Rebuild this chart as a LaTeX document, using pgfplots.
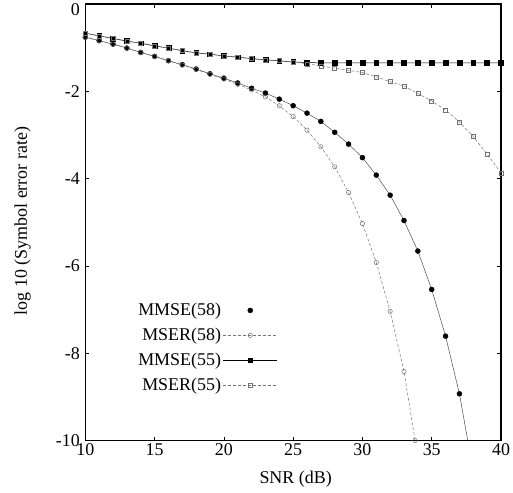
\documentclass[border=0pt]{standalone}
\usepackage{fontspec}
\setmainfont{Liberation Serif}
\usepackage{pgfplots}
\pgfplotsset{compat=1.18}
\begin{document}
\begin{tikzpicture}
\begin{axis}[
  scale only axis,
  width=415.7bp, height=436.5bp,
  xmin=10, xmax=40, ymin=-10, ymax=0,
  xtick={10,15,...,40}, ytick={-10,-8,...,0},
  yticklabels={-10,-8,-6,-4,-2,\raisebox{-12bp}[0pt][0pt]{0}},
  tick align=inside,
  major tick length=4bp,
  axis line style={line width=1.2bp},
  tick style={line width=0.6bp, black},
  /pgf/number format/assume math mode=true,
  tick label style={font=\fontsize{18}{20}\selectfont},
  yticklabel style={xshift=-2bp},
  label style={font=\fontsize{18}{20}\selectfont},
  xlabel={SNR (dB)},
  ylabel={log 10 (Symbol error rate)},
  xlabel style={at={(axis description cs:0.506,-0.0882)}, anchor=center},
  ylabel style={at={(axis description cs:-0.1506,0.503)}, anchor=center},
  legend style={at={(axis description cs:0.47,0.3235)}, anchor=north east,
    draw=none, fill=none, font=\fontsize{18}{20}\selectfont,
    legend cell align=right, row sep=7bp},
  legend plot pos=right,
  legend image code/.code={\draw[mark repeat=2,mark phase=2,#1] plot coordinates {(0bp,0bp) (27bp,0bp) (54bp,0bp)};},
]
% MMSE(58) connecting line (not in legend)
\addplot[black!70, line width=0.5bp, forget plot] coordinates {
(10,-0.76)(11,-0.84)(12,-0.92)(13,-1.01)(14,-1.11)(15,-1.20)(16,-1.30)(17,-1.39)(18,-1.49)(19,-1.60)(20,-1.70)(21,-1.81)(22,-1.93)(23,-2.04)(24,-2.18)(25,-2.33)(26,-2.50)(27,-2.69)(28,-2.94)(29,-3.21)(30,-3.52)(31,-3.92)(32,-4.38)(33,-4.96)(34,-5.66)(35,-6.54)(36,-7.61)(37,-8.93)(37.6,-10)};
\addplot[only marks, mark=*, mark size=2.5bp, black] coordinates {
(10,-0.76)(11,-0.84)(12,-0.92)(13,-1.01)(14,-1.11)(15,-1.20)(16,-1.30)(17,-1.39)(18,-1.49)(19,-1.60)(20,-1.70)(21,-1.81)(22,-1.93)(23,-2.04)(24,-2.18)(25,-2.33)(26,-2.50)(27,-2.69)(28,-2.94)(29,-3.21)(30,-3.52)(31,-3.92)(32,-4.38)(33,-4.96)(34,-5.66)(35,-6.54)(36,-7.61)(37,-8.93)};
\addlegendentry{MMSE(58)}
% MSER(58)
\addplot[black!55, densely dashed, line width=0.5bp, mark=o, mark size=2.2bp, mark options={solid, black!55}] coordinates {
(10,-0.76)(11,-0.84)(12,-0.92)(13,-1.01)(14,-1.11)(15,-1.20)(16,-1.30)(17,-1.40)(18,-1.50)(19,-1.61)(20,-1.72)(21,-1.84)(22,-1.97)(23,-2.13)(24,-2.33)(25,-2.58)(26,-2.89)(27,-3.27)(28,-3.73)(29,-4.32)(30,-5.03)(31,-5.92)(32,-7.04)(33,-8.42)(33.8,-10)};
\addlegendentry{MSER(58)}
% MMSE(55)
\addplot[black, line width=0.5bp, mark=square*, mark size=2.4bp, mark options={solid}] coordinates {
(10,-0.67)(11,-0.73)(12,-0.79)(13,-0.85)(14,-0.90)(15,-0.96)(16,-1.01)(17,-1.07)(18,-1.12)(19,-1.15)(20,-1.19)(21,-1.22)(22,-1.25)(23,-1.28)(24,-1.30)(25,-1.33)(26,-1.34)(27,-1.35)(28,-1.35)(29,-1.35)(30,-1.35)(31,-1.35)(32,-1.35)(33,-1.35)(34,-1.35)(35,-1.35)(36,-1.35)(37,-1.35)(38,-1.35)(39,-1.35)(40,-1.35)};
\addlegendentry{MMSE(55)}
% MSER(55)
\addplot[black!55, densely dashed, line width=0.5bp, mark=square, mark size=2bp, mark options={solid, black!55}] coordinates {
(10,-0.67)(11,-0.73)(12,-0.79)(13,-0.85)(14,-0.90)(15,-0.96)(16,-1.01)(17,-1.07)(18,-1.12)(19,-1.15)(20,-1.19)(21,-1.22)(22,-1.25)(23,-1.28)(24,-1.30)(25,-1.33)(26,-1.37)(27,-1.42)(28,-1.47)(29,-1.52)(30,-1.57)(31,-1.67)(32,-1.78)(33,-1.88)(34,-2.05)(35,-2.22)(36,-2.43)(37,-2.70)(38,-3.04)(39,-3.44)(40,-3.87)};
\addlegendentry{MSER(55)}
\end{axis}
\pgfresetboundingbox
\useasboundingbox (-85.3bp,-52.5bp) rectangle (427.7bp,440.5bp);
\end{tikzpicture}
\end{document}
